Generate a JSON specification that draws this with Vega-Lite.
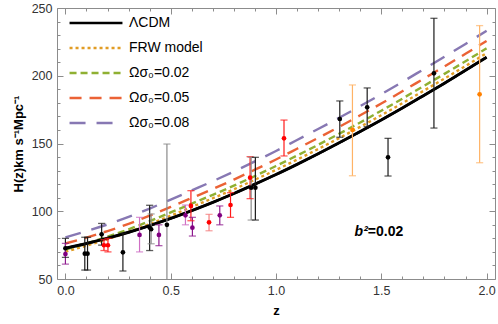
{
"$schema": "https://vega.github.io/schema/vega-lite/v6.json",
"width": 438, "height": 271,
"autosize": {"type": "none"},
"padding": {"left": 57, "top": 8, "right": 3, "bottom": 45},
"config": {
 "view": {"stroke": "#8c8c8c", "strokeWidth": 1},
 "font": "Liberation Sans",
 "axis": {"domain": false, "grid": false, "labelFont": "Liberation Sans", "labelFontSize": 12.5, "labelColor": "#333333", "tickColor": "#8c8c8c", "tickWidth": 1, "titleFont": "Liberation Sans", "titleFontSize": 13, "titleFontWeight": "bold", "titleColor": "#000000", "labelOverlap": false, "labelFlush": false},
 "legend": {"orient": "none", "legendX": 32, "legendY": 8, "title": null, "padding": 0, "symbolType": "M-5,0H5", "symbolSize": 112, "symbolStrokeWidth": 2.4, "labelOffset": 26, "labelFontSize": 14, "labelFont": "Liberation Sans", "labelColor": "#000000", "rowPadding": 11}
},
"datasets": {
 "curves": [
  {"z":0,"H":72.7,"model":"ΛCDM"},{"z":0.1,"H":76.2,"model":"ΛCDM"},{"z":0.2,"H":80.1,"model":"ΛCDM"},{"z":0.3,"H":84.5,"model":"ΛCDM"},{"z":0.4,"H":89.4,"model":"ΛCDM"},{"z":0.5,"H":94.7,"model":"ΛCDM"},{"z":0.6,"H":100.5,"model":"ΛCDM"},{"z":0.7,"H":106.6,"model":"ΛCDM"},{"z":0.8,"H":113.1,"model":"ΛCDM"},{"z":0.9,"H":120.0,"model":"ΛCDM"},{"z":1.0,"H":127.1,"model":"ΛCDM"},{"z":1.1,"H":134.6,"model":"ΛCDM"},{"z":1.2,"H":142.4,"model":"ΛCDM"},{"z":1.3,"H":150.5,"model":"ΛCDM"},{"z":1.4,"H":158.8,"model":"ΛCDM"},{"z":1.5,"H":167.4,"model":"ΛCDM"},{"z":1.6,"H":176.2,"model":"ΛCDM"},{"z":1.7,"H":185.3,"model":"ΛCDM"},{"z":1.8,"H":194.5,"model":"ΛCDM"},{"z":1.9,"H":204.0,"model":"ΛCDM"},{"z":2.0,"H":213.7,"model":"ΛCDM"},
  {"z":0,"H":70.2,"model":"FRW model"},{"z":0.1,"H":74.6,"model":"FRW model"},{"z":0.2,"H":79.4,"model":"FRW model"},{"z":0.3,"H":84.7,"model":"FRW model"},{"z":0.4,"H":90.5,"model":"FRW model"},{"z":0.5,"H":96.7,"model":"FRW model"},{"z":0.6,"H":103.2,"model":"FRW model"},{"z":0.7,"H":109.6,"model":"FRW model"},{"z":0.8,"H":116.2,"model":"FRW model"},{"z":0.9,"H":123.3,"model":"FRW model"},{"z":1.0,"H":130.5,"model":"FRW model"},{"z":1.1,"H":138.1,"model":"FRW model"},{"z":1.2,"H":145.9,"model":"FRW model"},{"z":1.3,"H":154.0,"model":"FRW model"},{"z":1.4,"H":162.3,"model":"FRW model"},{"z":1.5,"H":170.9,"model":"FRW model"},{"z":1.6,"H":179.7,"model":"FRW model"},{"z":1.7,"H":188.8,"model":"FRW model"},{"z":1.8,"H":197.9,"model":"FRW model"},{"z":1.9,"H":207.2,"model":"FRW model"},{"z":2.0,"H":216.7,"model":"FRW model"},
  {"z":0,"H":71.7,"model":"Ωσ₀=0.02"},{"z":0.1,"H":76.3,"model":"Ωσ₀=0.02"},{"z":0.2,"H":81.2,"model":"Ωσ₀=0.02"},{"z":0.3,"H":86.7,"model":"Ωσ₀=0.02"},{"z":0.4,"H":92.7,"model":"Ωσ₀=0.02"},{"z":0.5,"H":99.1,"model":"Ωσ₀=0.02"},{"z":0.6,"H":105.6,"model":"Ωσ₀=0.02"},{"z":0.7,"H":112.1,"model":"Ωσ₀=0.02"},{"z":0.8,"H":118.9,"model":"Ωσ₀=0.02"},{"z":0.9,"H":126.0,"model":"Ωσ₀=0.02"},{"z":1.0,"H":133.4,"model":"Ωσ₀=0.02"},{"z":1.1,"H":141.1,"model":"Ωσ₀=0.02"},{"z":1.2,"H":149.0,"model":"Ωσ₀=0.02"},{"z":1.3,"H":157.2,"model":"Ωσ₀=0.02"},{"z":1.4,"H":165.5,"model":"Ωσ₀=0.02"},{"z":1.5,"H":174.2,"model":"Ωσ₀=0.02"},{"z":1.6,"H":183.1,"model":"Ωσ₀=0.02"},{"z":1.7,"H":192.3,"model":"Ωσ₀=0.02"},{"z":1.8,"H":201.4,"model":"Ωσ₀=0.02"},{"z":1.9,"H":210.7,"model":"Ωσ₀=0.02"},{"z":2.0,"H":220.2,"model":"Ωσ₀=0.02"},
  {"z":0,"H":76.2,"model":"Ωσ₀=0.05"},{"z":0.1,"H":80.6,"model":"Ωσ₀=0.05"},{"z":0.2,"H":85.4,"model":"Ωσ₀=0.05"},{"z":0.3,"H":90.7,"model":"Ωσ₀=0.05"},{"z":0.4,"H":96.7,"model":"Ωσ₀=0.05"},{"z":0.5,"H":103.2,"model":"Ωσ₀=0.05"},{"z":0.6,"H":109.8,"model":"Ωσ₀=0.05"},{"z":0.7,"H":116.4,"model":"Ωσ₀=0.05"},{"z":0.8,"H":123.4,"model":"Ωσ₀=0.05"},{"z":0.9,"H":130.7,"model":"Ωσ₀=0.05"},{"z":1.0,"H":138.2,"model":"Ωσ₀=0.05"},{"z":1.1,"H":146.1,"model":"Ωσ₀=0.05"},{"z":1.2,"H":154.1,"model":"Ωσ₀=0.05"},{"z":1.3,"H":162.3,"model":"Ωσ₀=0.05"},{"z":1.4,"H":170.8,"model":"Ωσ₀=0.05"},{"z":1.5,"H":179.5,"model":"Ωσ₀=0.05"},{"z":1.6,"H":188.5,"model":"Ωσ₀=0.05"},{"z":1.7,"H":197.7,"model":"Ωσ₀=0.05"},{"z":1.8,"H":206.9,"model":"Ωσ₀=0.05"},{"z":1.9,"H":216.2,"model":"Ωσ₀=0.05"},{"z":2.0,"H":225.7,"model":"Ωσ₀=0.05"},
  {"z":0,"H":80.7,"model":"Ωσ₀=0.08"},{"z":0.1,"H":85.3,"model":"Ωσ₀=0.08"},{"z":0.2,"H":90.3,"model":"Ωσ₀=0.08"},{"z":0.3,"H":95.8,"model":"Ωσ₀=0.08"},{"z":0.4,"H":102.0,"model":"Ωσ₀=0.08"},{"z":0.5,"H":108.6,"model":"Ωσ₀=0.08"},{"z":0.6,"H":115.4,"model":"Ωσ₀=0.08"},{"z":0.7,"H":122.2,"model":"Ωσ₀=0.08"},{"z":0.8,"H":129.3,"model":"Ωσ₀=0.08"},{"z":0.9,"H":136.8,"model":"Ωσ₀=0.08"},{"z":1.0,"H":144.5,"model":"Ωσ₀=0.08"},{"z":1.1,"H":152.6,"model":"Ωσ₀=0.08"},{"z":1.2,"H":160.7,"model":"Ωσ₀=0.08"},{"z":1.3,"H":169.0,"model":"Ωσ₀=0.08"},{"z":1.4,"H":177.6,"model":"Ωσ₀=0.08"},{"z":1.5,"H":186.4,"model":"Ωσ₀=0.08"},{"z":1.6,"H":195.4,"model":"Ωσ₀=0.08"},{"z":1.7,"H":204.7,"model":"Ωσ₀=0.08"},{"z":1.8,"H":214.0,"model":"Ωσ₀=0.08"},{"z":1.9,"H":223.5,"model":"Ωσ₀=0.08"},{"z":2.0,"H":233.2,"model":"Ωσ₀=0.08"}
 ],
 "obs": [
  {"z":0.0,"H":72.7,"lo":66,"hi":80,"set":"cc"},
  {"z":0.0,"H":68.4,"lo":61,"hi":76.3,"set":"bao"},
  {"z":0.092,"H":68.7,"lo":56.6,"hi":80.8,"set":"cc"},
  {"z":0.105,"H":68.7,"lo":56.6,"hi":80.8,"set":"cc"},
  {"z":0.172,"H":83,"lo":75,"hi":91,"set":"cc"},
  {"z":0.183,"H":74.9,"lo":71,"hi":79,"set":"red"},
  {"z":0.202,"H":74.9,"lo":70,"hi":80,"set":"red"},
  {"z":0.273,"H":69.7,"lo":55.9,"hi":83.7,"set":"cc"},
  {"z":0.352,"H":82.5,"lo":70,"hi":95.5,"set":"bao2"},
  {"z":0.4,"H":88,"lo":71,"hi":104.4,"set":"cc"},
  {"z":0.407,"H":86.7,"lo":76,"hi":98,"set":"cc2"},
  {"z":0.444,"H":82.5,"lo":74.6,"hi":90,"set":"bao"},
  {"z":0.482,"H":90,"lo":28,"hi":149.6,"set":"cc2"},
  {"z":0.57,"H":97,"lo":90,"hi":104.6,"set":"bao2"},
  {"z":0.596,"H":103.9,"lo":93,"hi":115.2,"set":"red"},
  {"z":0.603,"H":87.9,"lo":81.7,"hi":95.5,"set":"bao"},
  {"z":0.682,"H":91.8,"lo":85.6,"hi":97.7,"set":"red2"},
  {"z":0.733,"H":97,"lo":90,"hi":103.9,"set":"bao"},
  {"z":0.784,"H":104.6,"lo":95.5,"hi":113.7,"set":"red"},
  {"z":0.877,"H":124.8,"lo":109.3,"hi":140.3,"set":"red"},
  {"z":0.882,"H":117.4,"lo":93.5,"hi":139.8,"set":"cc2"},
  {"z":0.902,"H":117.4,"lo":93.5,"hi":139.8,"set":"cc"},
  {"z":1.038,"H":153.8,"lo":140.8,"hi":167.3,"set":"red"},
  {"z":1.303,"H":168.1,"lo":154.6,"hi":181.4,"set":"cc"},
  {"z":1.363,"H":160,"lo":126.2,"hi":193.2,"set":"or"},
  {"z":1.433,"H":176.7,"lo":162.4,"hi":191,"set":"cc"},
  {"z":1.532,"H":139.8,"lo":126,"hi":153.8,"set":"cc"},
  {"z":1.75,"H":201.8,"lo":161.4,"hi":242.4,"set":"cc"},
  {"z":1.967,"H":186.3,"lo":135.8,"hi":237,"set":"or"}
 ]
},
"layer": [
 {
  "data": {"name": "curves"},
  "mark": {"type": "line", "interpolate": "monotone", "clip": true, "strokeWidth": 2.4},
  "encoding": {
   "x": {"field": "z", "type": "quantitative", "scale": {"domain": [-0.04, 2.04], "nice": false, "zero": false},
     "axis": {"orient": "bottom", "values": [0,0.1,0.2,0.3,0.4,0.5,0.6,0.7,0.8,0.9,1,1.1,1.2,1.3,1.4,1.5,1.6,1.7,1.8,1.9,2], "labelExpr": "abs(datum.value*2-round(datum.value*2))<0.001 ? format(datum.value,'.1f') : ''", "tickSize": {"condition": {"test": "abs(datum.value*2-round(datum.value*2))<0.001", "value": -6}, "value": -3}, "labelPadding": 11, "title": "z", "titlePadding": 5}},
   "y": {"field": "H", "type": "quantitative", "scale": {"domain": [50, 250], "nice": false, "zero": false},
     "axis": {"orient": "left", "values": [50,60,70,80,90,100,110,120,130,140,150,160,170,180,190,200,210,220,230,240,250], "labelExpr": "datum.value % 50 === 0 ? datum.label : ''", "tickSize": {"condition": {"test": "datum.value % 50 === 0", "value": -6}, "value": -3}, "labelPadding": 11, "title": "H(z)km s⁻¹Mpc⁻¹", "titlePadding": 6}},
   "color": {"field": "model", "type": "nominal", "scale": {"domain": ["ΛCDM","FRW model","Ωσ₀=0.02","Ωσ₀=0.05","Ωσ₀=0.08"], "range": ["#000000","#E19C24","#8FB032","#EB6235","#8778B3"]}},
   "strokeDash": {"field": "model", "type": "nominal", "scale": {"domain": ["ΛCDM","FRW model","Ωσ₀=0.02","Ωσ₀=0.05","Ωσ₀=0.08"], "range": [[1,0],[3,3],[7,4],[12,8],[16,11]]}}
  }
 },
 {
  "data": {"name": "curves"},
  "transform": [{"filter": "datum.model === 'ΛCDM'"}],
  "mark": {"type": "line", "interpolate": "monotone", "clip": true, "strokeWidth": 2.9, "color": "#000000"},
  "encoding": {
   "x": {"field": "z", "type": "quantitative", "axis": null},
   "y": {"field": "H", "type": "quantitative", "axis": null}
  }
 },
 {
  "data": {"name": "obs"},
  "mark": {"type": "rule", "strokeWidth": 1.2, "clip": true},
  "encoding": {
   "x": {"field": "z", "type": "quantitative",
     "axis": {"orient": "top", "values": [0,0.1,0.2,0.3,0.4,0.5,0.6,0.7,0.8,0.9,1,1.1,1.2,1.3,1.4,1.5,1.6,1.7,1.8,1.9,2], "labels": false, "title": null, "tickSize": {"condition": {"test": "abs(datum.value*2-round(datum.value*2))<0.001", "value": -6}, "value": -3}}},
   "y": {"field": "lo", "type": "quantitative",
     "axis": {"orient": "right", "values": [50,60,70,80,90,100,110,120,130,140,150,160,170,180,190,200,210,220,230,240,250], "labels": false, "title": null, "tickSize": {"condition": {"test": "datum.value % 50 === 0", "value": -6}, "value": -3}}},
   "y2": {"field": "hi"},
   "stroke": {"field": "set", "type": "nominal", "scale": {"domain": ["cc","cc2","red","red2","bao","bao2","or"], "range": ["#1a1a1a","#8a8a8a","#ff1a1a","#f47c7c","#8e1a8e","#cf6fc4","#ffb366"]}, "legend": null}
  }
 },
 {
  "data": {"name": "obs"},
  "transform": [{"fold": ["lo", "hi"], "as": ["end", "val"]}],
  "mark": {"type": "tick", "orient": "horizontal", "size": 6, "thickness": 0.2, "filled": false, "strokeWidth": 1.1, "clip": true},
  "encoding": {
   "x": {"field": "z", "type": "quantitative", "axis": null},
   "y": {"field": "val", "type": "quantitative", "axis": null},
   "stroke": {"field": "set", "type": "nominal", "legend": null}
  }
 },
 {
  "data": {"name": "obs"},
  "mark": {"type": "point", "filled": true, "opacity": 1, "size": 22, "shape": "circle", "clip": true},
  "encoding": {
   "x": {"field": "z", "type": "quantitative", "axis": null},
   "y": {"field": "H", "type": "quantitative", "axis": null},
   "fill": {"field": "set", "type": "nominal", "scale": {"domain": ["cc","cc2","red","red2","bao","bao2","or"], "range": ["#000000","#000000","#ff0000","#ff0000","#800080","#800080","#ff8000"]}, "legend": null}
  }
 },
 {
  "data": {"values": [{"z": 1.436, "H": 84.5}]},
  "mark": {"type": "text", "align": "right", "baseline": "middle", "fontSize": 14, "fontWeight": "bold", "fontStyle": "italic", "font": "Liberation Sans", "color": "#000000"},
  "encoding": {
   "x": {"field": "z", "type": "quantitative", "axis": null},
   "y": {"field": "H", "type": "quantitative", "axis": null},
   "text": {"value": "b²"}
  }
 },
 {
  "data": {"values": [{"z": 1.436, "H": 84.5}]},
  "mark": {"type": "text", "align": "left", "baseline": "middle", "fontSize": 14, "fontWeight": "bold", "font": "Liberation Sans", "color": "#000000"},
  "encoding": {
   "x": {"field": "z", "type": "quantitative", "axis": null},
   "y": {"field": "H", "type": "quantitative", "axis": null},
   "text": {"value": "=0.02"}
  }
 }
],
"resolve": {"axis": {"x": "independent", "y": "independent"}}
}
